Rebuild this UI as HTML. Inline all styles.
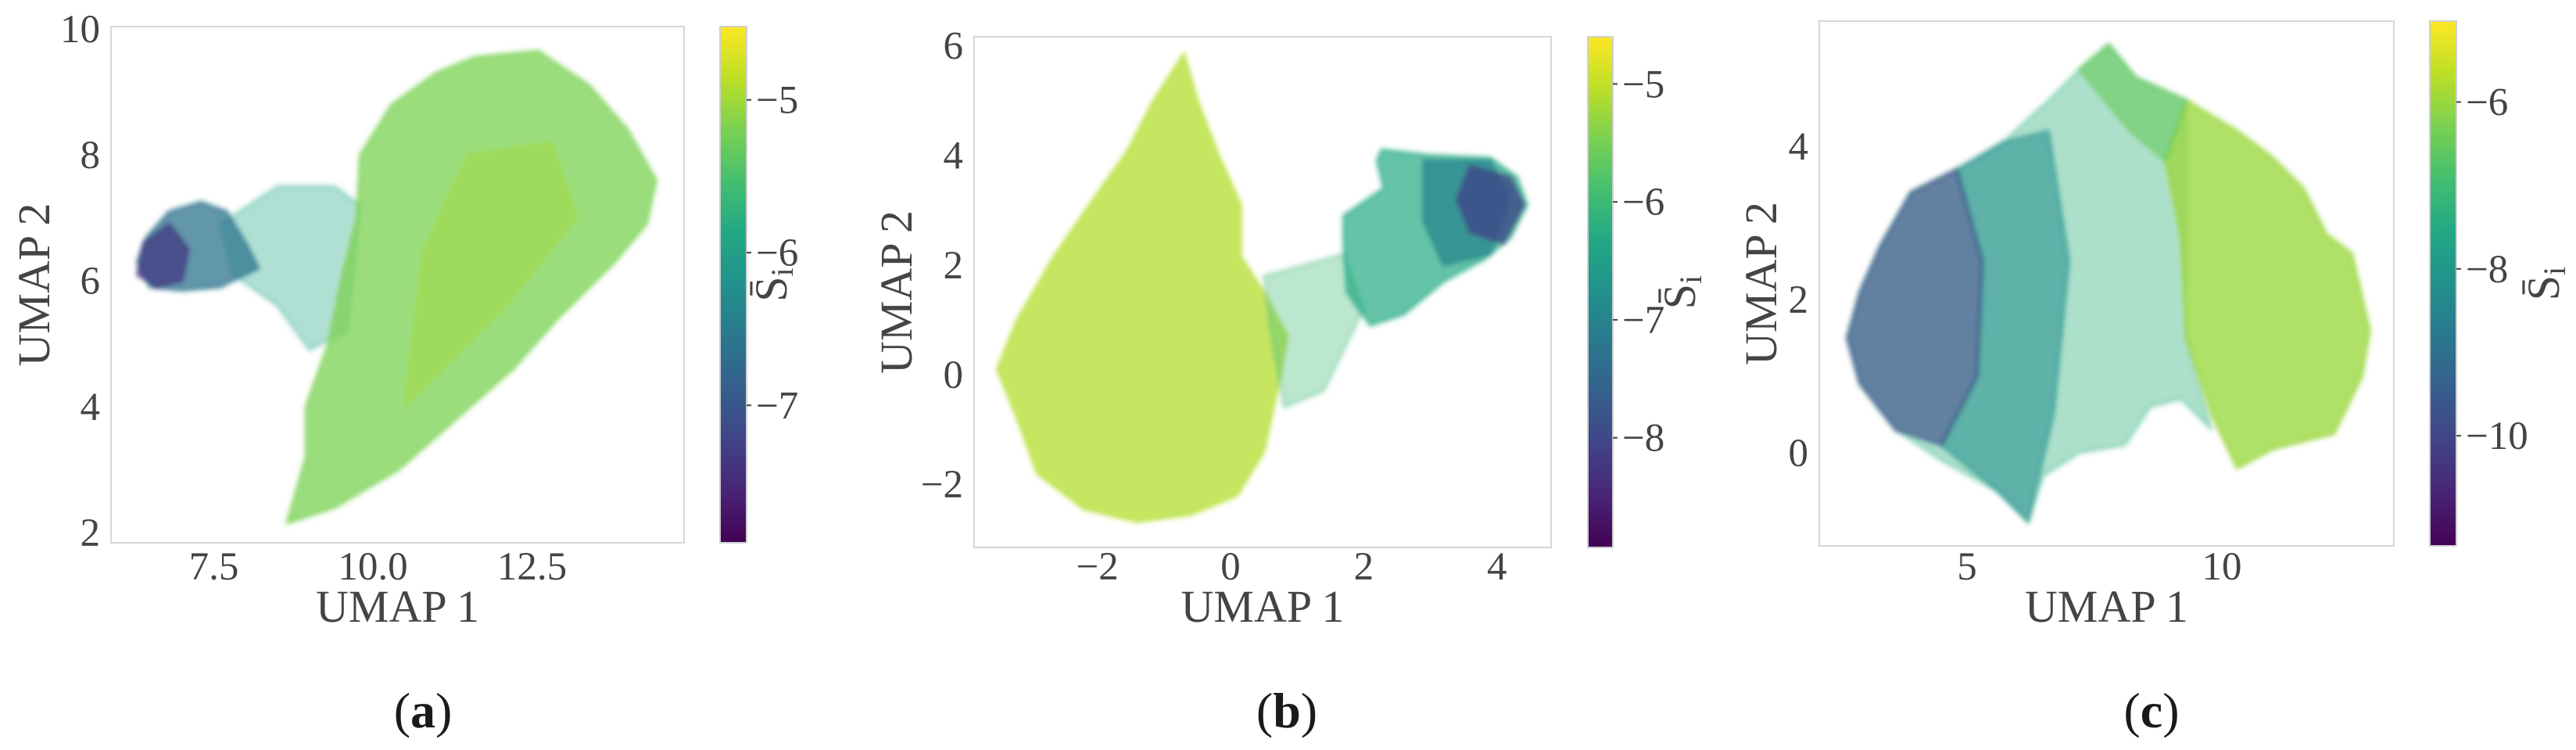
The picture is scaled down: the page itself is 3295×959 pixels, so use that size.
<!DOCTYPE html>
<html><head><meta charset="utf-8">
<style>
html,body{margin:0;padding:0;background:#fff;}
svg{display:block;}
text{font-family:"Liberation Serif",serif;fill:#444;}
</style></head>
<body>
<svg id="fig" width="3295" height="959" viewBox="0 0 3295 959" xmlns="http://www.w3.org/2000/svg">
<defs>
<linearGradient id="vir" x1="0" y1="1" x2="0" y2="0">
<stop offset="0" stop-color="#440154"/><stop offset="0.1" stop-color="#482475"/><stop offset="0.2" stop-color="#414487"/><stop offset="0.3" stop-color="#355f8d"/><stop offset="0.4" stop-color="#2a788e"/><stop offset="0.5" stop-color="#21918c"/><stop offset="0.6" stop-color="#22a884"/><stop offset="0.7" stop-color="#44bf70"/><stop offset="0.8" stop-color="#7ad151"/><stop offset="0.9" stop-color="#bddf26"/><stop offset="1" stop-color="#fde725"/>
</linearGradient>
<filter id="soft"><feGaussianBlur stdDeviation="3"/></filter>
</defs>
</svg>
<script>
// ---------- DATA ----------
// Panel (a)
const aXTicks = [7.5, 10.0, 12.5];
const aXTickLabels = ["7.5", "10.0", "12.5"];
const aYTicks = [2, 4, 6, 8, 10];
const aCbTicks = [-5, -6, -7];
const aCbRange = [-7.9, -4.52];
const aRegionValues = [-5.9, -5.2, -5.0, -6.6, -7.3];
const aRegionDensity = [0.35, 0.75, 0.45, 0.75, 0.8];
const aRegions = [
  [[7.6,6.9],[8.5,7.5],[9.4,7.5],[9.8,7.2],[9.6,5.2],[9.0,4.9],[8.5,5.6],[7.8,6.1]],
  [[8.65,2.15],[8.95,3.2],[8.95,4.0],[9.3,5.0],[9.5,6.0],[9.75,7.0],[9.8,8.0],[10.3,8.8],[11.0,9.3],[11.6,9.55],[12.6,9.65],[13.4,9.1],[14.0,8.4],[14.45,7.6],[14.3,6.9],[13.8,6.3],[12.9,5.4],[12.2,4.6],[11.3,3.8],[10.4,3.0],[9.4,2.4]],
  [[10.5,4.0],[10.8,6.5],[11.5,8.0],[12.8,8.2],[13.2,7.0],[12.0,5.5]],
  [[6.3,6.3],[6.45,6.7],[6.8,7.1],[7.3,7.25],[7.7,7.1],[8.0,6.6],[8.2,6.2],[7.6,5.9],[7.0,5.85],[6.5,5.9]],
  [[6.3,6.1],[6.4,6.6],[6.8,6.9],[7.1,6.5],[7.0,6.0],[6.6,5.9]]
];
// Panel (b)
const bXTicks = [-2, 0, 2, 4];
const bXTickLabels = ["\u22122", "0", "2", "4"];
const bYTicks = [-2, 0, 2, 4, 6];
const bCbTicks = [-5, -6, -7, -8];
const bCbRange = [-8.93, -4.6];
const bRegionValues = [-5.1, -6.0, -6.3, -7.0, -8.0];
const bRegionDensity = [0.75, 0.35, 0.7, 0.7, 0.8];
const bRegions = [
  [[-0.7,5.85],[-0.5,5.0],[-0.2,4.05],[0.15,3.1],[0.15,2.15],[0.5,1.5],[0.85,0.7],[0.75,0.0],[0.5,-1.4],[0.1,-2.2],[-0.6,-2.55],[-1.4,-2.68],[-2.2,-2.45],[-2.9,-1.8],[-3.2,-0.8],[-3.5,0.1],[-3.2,1.0],[-2.65,2.15],[-2.0,3.3],[-1.56,4.05],[-1.15,5.0]],
  [[0.5,1.8],[1.7,2.2],[2.0,1.2],[1.4,-0.3],[0.8,-0.6],[0.6,0.8]],
  [[2.27,4.1],[3.0,4.0],[3.9,3.95],[4.3,3.6],[4.45,3.1],[4.2,2.5],[3.8,2.1],[3.2,1.7],[2.6,1.1],[2.1,0.9],[1.75,1.5],[1.7,2.4],[1.7,2.9],[2.3,3.4],[2.2,3.9]],
  [[2.9,3.9],[3.9,3.9],[4.2,3.2],[3.9,2.2],[3.2,2.0],[2.9,2.8]],
  [[3.6,3.8],[4.2,3.6],[4.4,3.1],[4.1,2.4],[3.6,2.6],[3.4,3.2]]
];
// Panel (c)
const cXTicks = [5, 10];
const cXTickLabels = ["5", "10"];
const cYTicks = [0, 2, 4];
const cCbTicks = [-6, -8, -10];
const cCbRange = [-11.32, -5.03];
const cRegionValues = [-7.3, -6.0, -6.5, -8.3, -9.8];
const cRegionDensity = [0.4, 0.78, 0.6, 0.55, 0.65];
const cRegions = [
  [[7.78,5.33],[8.3,4.9],[9.3,4.6],[9.3,1.5],[9.8,0.3],[9.2,0.7],[8.6,0.6],[8.1,0.1],[7.2,0.0],[6.5,-0.3],[6.2,-0.9],[5.6,-0.5],[4.5,-0.1],[3.6,0.3],[2.9,0.9],[2.65,1.5],[2.9,2.1],[3.3,2.7],[3.9,3.4],[5.1,3.8],[5.7,4.05],[6.6,4.6],[7.2,5.0]],
  [[9.3,4.6],[10.3,4.2],[11.0,3.85],[11.6,3.45],[12.05,2.85],[12.55,2.6],[12.9,1.6],[12.75,1.0],[12.2,0.25],[11.0,0.05],[10.3,-0.2],[9.8,0.5],[9.3,1.5],[9.2,2.8],[8.9,3.8]],
  [[7.78,5.33],[8.3,4.9],[9.3,4.6],[8.9,3.8],[8.2,4.2],[7.2,5.0]],
  [[4.8,3.7],[5.7,4.05],[6.6,4.2],[7.0,2.5],[6.7,0.5],[6.2,-0.9],[5.6,-0.5],[4.5,0.1],[5.2,1.0],[5.3,2.5]],
  [[2.65,1.5],[2.9,2.1],[3.3,2.7],[3.9,3.4],[4.8,3.7],[5.3,2.5],[5.2,1.0],[4.5,0.1],[3.6,0.3],[2.9,0.9]]
];

// ---------- LAYOUT ----------
const NS = "http://www.w3.org/2000/svg";
const svg = document.getElementById("fig");
function mk(tag, attrs, parent){const e=document.createElementNS(NS,tag);for(const k in attrs)e.setAttribute(k,attrs[k]);(parent||svg).appendChild(e);return e;}
const VIR=["#440154","#482475","#414487","#355f8d","#2a788e","#21918c","#22a884","#44bf70","#7ad151","#bddf26","#fde725"];
function hex(h){return [1,3,5].map(i=>parseInt(h.substr(i,2),16));}
function viridis(t){t=Math.max(0,Math.min(1,t));const f=t*10,i=Math.min(9,Math.floor(f)),r=f-i;const a=hex(VIR[i]),b=hex(VIR[i+1]);return "rgb("+a.map((v,k)=>Math.round(v+(b[k]-v)*r)).join(",")+")";}

const panels = [
 {id:"a", ax:[142,34,875,694], xref:[10,477,81.4], yref:[10,37,80.5], cb:[921,955], cbRange:aCbRange, cbTicks:aCbTicks,
  xt:aXTicks, xtl:aXTickLabels, yt:aYTicks, regions:aRegions, vals:aRegionValues, dens:aRegionDensity, ylab:43, cbl:988, cap:541},
 {id:"b", ax:[1246,47,1984,700], xref:[0,1574,85.2], yref:[0,479,70.1], cb:[2031,2063], cbRange:bCbRange, cbTicks:bCbTicks,
  xt:bXTicks, xtl:bXTickLabels, yt:bYTicks, regions:bRegions, vals:bRegionValues, dens:bRegionDensity, ylab:1146, cbl:2150, cap:1646},
 {id:"c", ax:[2327,27,3062,698], xref:[5,2516,65.2], yref:[0,579,98], cb:[3108,3142], cbRange:cCbRange, cbTicks:cCbTicks,
  xt:cXTicks, xtl:cXTickLabels, yt:cYTicks, regions:cRegions, vals:cRegionValues, dens:cRegionDensity, ylab:2252, cbl:3255, cap:2752}
];

panels.forEach(p=>{
  const [L,T,R,B]=p.ax;
  const X=v=>p.xref[1]+(v-p.xref[0])*p.xref[2];
  const Y=v=>p.yref[1]-(v-p.yref[0])*p.yref[2];
  const cbY=v=>T+(p.cbRange[1]-v)/(p.cbRange[1]-p.cbRange[0])*(B-T);
  const g=mk("g",{});
  
  
  const frame=mk("rect",{x:L,y:T,width:R-L,height:B-T,fill:"#fff",stroke:"#d6d6d6","stroke-width":2},g);
  
  
  const clip=mk("clipPath",{id:"clip"+p.id},g);mk("rect",{x:L,y:T,width:R-L,height:B-T},clip);
  const pts=mk("g",{"clip-path":"url(#clip"+p.id+")",filter:"url(#soft)"},g);
  
  
  p.regions.forEach((poly,i)=>{
    const t=(p.vals[i]-p.cbRange[0])/(p.cbRange[1]-p.cbRange[0]);
    const d=poly.map((q,k)=>(k?"L":"M")+X(q[0]).toFixed(1)+","+Y(q[1]).toFixed(1)).join("")+"Z";
    const path=mk("path",{d:d,fill:viridis(t),"fill-opacity":p.dens[i],"stroke":viridis(t),"stroke-opacity":p.dens[i]*0.6,"stroke-width":6,"stroke-linejoin":"round"},pts);
    
    
  });
  p.xt.forEach((v,i)=>{
    const t=mk("text",{x:X(v),y:741,"font-size":51,"text-anchor":"middle"},g);
    t.textContent=p.xtl[i];
    
    
  });
  p.yt.forEach(v=>{
    const t=mk("text",{x:L-14,y:Y(v)+17,"font-size":51,"text-anchor":"end"},g);
    t.textContent=(v<0?"\u2212":"")+Math.abs(v);
    
    
  });
  const xl=mk("text",{x:(L+R)/2,y:795,"font-size":58,"text-anchor":"middle"},g);
  xl.textContent="UMAP 1";
  
  
  const yl=mk("text",{x:0,y:0,"font-size":58,"text-anchor":"middle",transform:"translate("+(p.ylab+20)+","+(T+B)/2+") rotate(-90)"},g);
  yl.textContent="UMAP 2";
  
  
  const cb=mk("rect",{x:p.cb[0],y:T,width:p.cb[1]-p.cb[0],height:B-T,fill:"url(#vir)",stroke:"#cfcfcf","stroke-width":2},g);
  
  
  p.cbTicks.forEach(v=>{
    const y=cbY(v);
    const tk=mk("line",{x1:p.cb[1],x2:p.cb[1]+6,y1:y,y2:y,stroke:"#444","stroke-width":2},g);
    
    
    const t=mk("text",{x:p.cb[1]+12,y:y+17,"font-size":51},g);
    t.textContent="\u2212"+Math.abs(v);
    
    
  });
  const cl=mk("text",{x:0,y:0,"font-size":58,"text-anchor":"middle",transform:"translate("+(p.cbl+18)+","+(T+B)/2+") rotate(-90)"},g);
  cl.textContent="S\u0304";
  const sub=mk("tspan",{"font-size":40,dy:8},cl);sub.textContent="i";
  
  
  const cap=mk("text",{x:p.cap,y:930,"font-size":64,"text-anchor":"middle",style:"fill:#1a1a1a"},g);
  cap.textContent="(";
  const cb2=mk("tspan",{"font-weight":"bold"},cap);cb2.textContent=p.id;
  const cb3=mk("tspan",{},cap);cb3.textContent=")";
  
  
});
</script>
</body></html>
